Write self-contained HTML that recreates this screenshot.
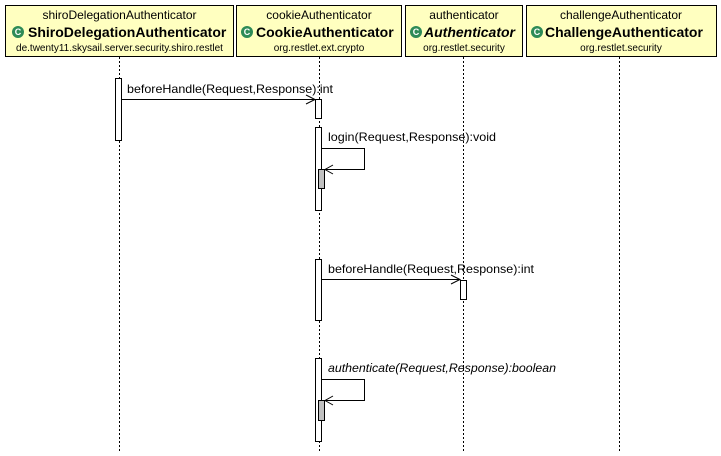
<!DOCTYPE html>
<html><head><style>body{margin:0;background:#fff}</style></head><body>
<svg width="721" height="451" xmlns="http://www.w3.org/2000/svg" font-family="Liberation Sans, sans-serif">
<rect width="721" height="451" fill="#fff"/>
<g stroke="#000" stroke-dasharray="2,2" stroke-width="1">
<line x1="119.5" y1="57" x2="119.5" y2="451"/>
<line x1="319.5" y1="57" x2="319.5" y2="451"/>
<line x1="463.5" y1="57" x2="463.5" y2="451"/>
<line x1="619.5" y1="57" x2="619.5" y2="451"/>
</g>
<g fill="#ffffc0" stroke="#000">
<rect x="5.5" y="5.5" width="228" height="51"/>
<rect x="236.5" y="5.5" width="165" height="51"/>
<rect x="405.5" y="5.5" width="117" height="51"/>
<rect x="526.5" y="5.5" width="190" height="51"/>
</g>
<g font-size="12" text-anchor="middle">
<text x="119.5" y="19">shiroDelegationAuthenticator</text>
<text x="319" y="19">cookieAuthenticator</text>
<text x="464" y="19">authenticator</text>
<text x="621" y="19">challengeAuthenticator</text>
</g>
<g font-size="14" font-weight="bold">
<text x="28" y="37">ShiroDelegationAuthenticator</text>
<text x="256" y="37">CookieAuthenticator</text>
<text x="424" y="37" font-style="italic">Authenticator</text>
<text x="545" y="37">ChallengeAuthenticator</text>
</g>
<g fill="#2e8b57">
<circle cx="18" cy="32" r="6"/><circle cx="247" cy="32" r="6"/><circle cx="416" cy="32" r="6"/><circle cx="537" cy="32" r="6"/>
</g>
<g fill="#fff" font-size="9" font-weight="bold" text-anchor="middle">
<text x="18" y="35">C</text><text x="247" y="35">C</text><text x="416" y="35">C</text><text x="537" y="35">C</text>
</g>
<g font-size="10" text-anchor="middle">
<text x="119.5" y="51">de.twenty11.skysail.server.security.shiro.restlet</text>
<text x="319" y="51">org.restlet.ext.crypto</text>
<text x="464" y="51">org.restlet.security</text>
<text x="621" y="51">org.restlet.security</text>
</g>
<g fill="#fff" stroke="#000">
<rect x="115.5" y="78.5" width="6" height="62"/>
<rect x="315.5" y="99.5" width="6" height="19"/>
<rect x="315.5" y="127.5" width="6" height="83"/>
<rect x="315.5" y="259.5" width="6" height="61"/>
<rect x="460.5" y="280.5" width="6" height="19"/>
<rect x="315.5" y="358.5" width="6" height="83"/>
</g>
<g fill="#c0c0c0" stroke="#000">
<rect x="318.5" y="169.5" width="6" height="19"/>
<rect x="318.5" y="400.5" width="6" height="20"/>
</g>
<g stroke="#000" fill="none">
<line x1="122" y1="99.5" x2="315" y2="99.5"/><polyline points="306,95 315,99.5 306,104"/>
<polyline points="322,148.5 364.5,148.5 364.5,169.5 325,169.5"/><polyline points="333,165 325,169.5 333,174"/>
<line x1="322" y1="279.5" x2="460" y2="279.5"/><polyline points="451,275 460,279.5 451,284"/>
<polyline points="322,379.5 364.5,379.5 364.5,400.5 325,400.5"/><polyline points="333,396 325,400.5 333,405"/>
</g>
<g font-size="12">
<text x="127" y="93" textLength="206" lengthAdjust="spacingAndGlyphs">beforeHandle(Request,Response):int</text>
<text x="328" y="141" textLength="168" lengthAdjust="spacingAndGlyphs">login(Request,Response):void</text>
<text x="328" y="273" textLength="206" lengthAdjust="spacingAndGlyphs">beforeHandle(Request,Response):int</text>
<text x="328" y="372" font-style="italic" textLength="228" lengthAdjust="spacingAndGlyphs">authenticate(Request,Response):boolean</text>
</g>
</svg>
</body></html>
